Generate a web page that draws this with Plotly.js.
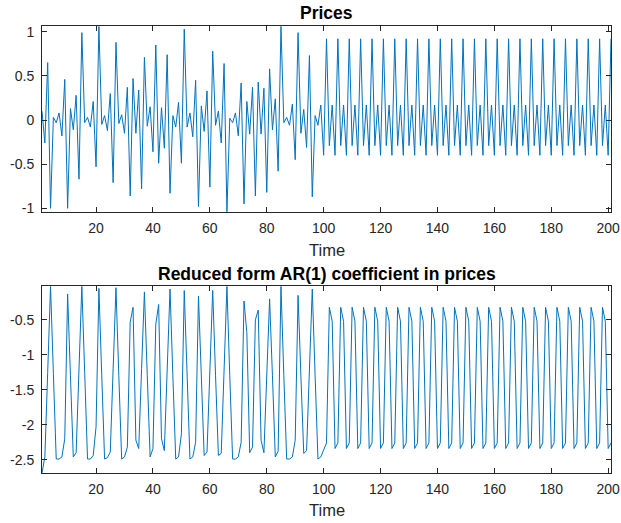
<!DOCTYPE html>
<html>
<head>
<meta charset="utf-8">
<script src="https://cdn.plot.ly/plotly-3.0.1.min.js"></script>
<style>html,body{margin:0;padding:0;background:#fff;}#chart{width:621px;height:523px;}</style>
</head>
<body>
<div id="chart"></div>
<script>
// ---- data ----
var prices = [
  0.10, -0.26, 0.65, -1.00, 0.03, -0.03, 0.08, -0.18, 0.46, -1.00,
  0.13, -0.11, 0.28, -0.67, 0.99, -0.03, 0.03, -0.08, 0.21, -0.53,
  1.06, -0.05, 0.05, -0.12, 0.30, -0.71, 0.88, -0.04, 0.06, -0.15,
  0.37, -0.86, 0.47, -0.15, 0.34, -0.78, 0.71, -0.07, 0.15, -0.36,
  0.85, -0.49, 0.14, -0.32, 0.74, -0.83, 0.05, -0.08, 0.20, -0.49,
  1.03, -0.08, 0.08, -0.19, 0.45, -0.98, 0.16, -0.13, 0.33, -0.76,
  0.78, -0.06, 0.10, -0.26, 0.64, -1.04, 0.02, -0.03, 0.08, -0.18,
  0.42, -0.95, 0.21, -0.16, 0.37, -0.86, 0.43, -0.16, 0.36, -0.82,
  0.58, -0.11, 0.24, -0.58, 1.06, -0.03, 0.03, -0.06, 0.18, -0.45,
  0.99, -0.15, 0.12, -0.31, 0.73, -0.87, 0.05, -0.06, 0.17, -0.40,
  0.92, -0.29, 0.17, -0.40, 0.92, -0.29, 0.17, -0.40, 0.92, -0.29,
  0.17, -0.40, 0.92, -0.29, 0.17, -0.40, 0.92, -0.29, 0.17, -0.40,
  0.92, -0.29, 0.17, -0.40, 0.92, -0.29, 0.17, -0.40, 0.92, -0.29,
  0.17, -0.40, 0.92, -0.29, 0.17, -0.40, 0.92, -0.29, 0.17, -0.40,
  0.92, -0.29, 0.17, -0.40, 0.92, -0.29, 0.17, -0.40, 0.92, -0.29,
  0.17, -0.40, 0.92, -0.29, 0.17, -0.40, 0.92, -0.29, 0.17, -0.40,
  0.92, -0.29, 0.17, -0.40, 0.92, -0.29, 0.17, -0.40, 0.92, -0.29,
  0.17, -0.40, 0.92, -0.29, 0.17, -0.40, 0.92, -0.29, 0.17, -0.40,
  0.92, -0.29, 0.17, -0.40, 0.92, -0.29, 0.17, -0.40, 0.92, -0.29,
  0.17, -0.40, 0.92, -0.29, 0.17, -0.40, 0.92, -0.29, 0.17, -0.40,
  0.92
];

var arCoef = [
  -2.69, -2.46, -1.25, -0.02, -1.27, -2.49, -2.49, -2.46, -2.20, -0.13,
  -1.30, -2.46, -2.40, -1.22, -0.02, -1.25, -2.49, -2.49, -2.44, -2.03,
  -0.05, -1.30, -2.49, -2.47, -2.39, -1.20, -0.04, -1.30, -2.49, -2.46,
  -2.32, -0.53, -0.32, -2.22, -2.34, -1.20, -0.10, -1.30, -2.46, -2.34,
  -0.56, -0.28, -2.20, -2.37, -1.20, -0.06, -1.30, -2.49, -2.46, -2.13,
  -0.08, -1.30, -2.49, -2.46, -2.25, -0.16, -1.30, -2.44, -2.39, -1.20,
  -0.08, -1.30, -2.44, -2.41, -1.20, -0.02, -1.30, -2.49, -2.49, -2.46,
  -2.25, -0.23, -0.68, -2.40, -2.32, -0.50, -0.36, -2.22, -2.40, -1.30,
  -0.20, -1.30, -2.46, -2.38, -0.02, -1.30, -2.49, -2.49, -2.46, -2.22,
  -0.15, -1.30, -2.41, -2.37, -1.25, -0.06, -1.30, -2.49, -2.46, -2.37,
  -2.26, -0.32, -0.52, -2.34, -2.26, -0.32, -0.52, -2.34, -2.26, -0.32,
  -0.52, -2.34, -2.26, -0.32, -0.52, -2.34, -2.26, -0.32, -0.52, -2.34,
  -2.26, -0.32, -0.52, -2.34, -2.26, -0.32, -0.52, -2.34, -2.26, -0.32,
  -0.52, -2.34, -2.26, -0.32, -0.52, -2.34, -2.26, -0.32, -0.52, -2.34,
  -2.26, -0.32, -0.52, -2.34, -2.26, -0.32, -0.52, -2.34, -2.26, -0.32,
  -0.52, -2.34, -2.26, -0.32, -0.52, -2.34, -2.26, -0.32, -0.52, -2.34,
  -2.26, -0.32, -0.52, -2.34, -2.26, -0.32, -0.52, -2.34, -2.26, -0.32,
  -0.52, -2.34, -2.26, -0.32, -0.52, -2.34, -2.26, -0.32, -0.52, -2.34,
  -2.26, -0.32, -0.52, -2.34, -2.26, -0.32, -0.52, -2.34, -2.26, -0.32,
  -0.52, -2.34, -2.26, -0.32, -0.52, -2.34, -2.26, -0.32, -0.52, -2.34,
  -2.26
];

var xTickVals = [20, 40, 60, 80, 100, 120, 140, 160, 180, 200];
var xTickText = ["20", "40", "60", "80", "100", "120", "140", "160", "180", "200"];
var y1TickVals = [-1, -0.5, 0, 0.5, 1];
var y1TickText = ["-1", "-0.5", "0", "0.5", "1"];
var y2TickVals = [-2.5, -2, -1.5, -1, -0.5];
var y2TickText = ["-2.5", "-2", "-1.5", "-1", "-0.5"];
var titleTop = "Prices";
var titleBottom = "Reduced form AR(1) coefficient in prices";
var xLabel = "Time";

// time index 1..N
var time = [];
for (var i = 0; i < prices.length; i++) { time.push(i + 1); }

var FONT = "Liberation Sans, Arial, Helvetica, sans-serif";
var AX = "#262626";
var BLUE = "#0072BD";

var traces = [
  {x: time, y: prices, type: "scatter", mode: "lines", xaxis: "x", yaxis: "y",
   line: {color: BLUE, width: 1}, hoverinfo: "skip"},
  {x: time, y: arCoef, type: "scatter", mode: "lines", xaxis: "x2", yaxis: "y2",
   line: {color: BLUE, width: 1}, hoverinfo: "skip"}
];

function xAxis(anchor) {
  return {
    anchor: anchor, domain: [0, 1], range: [1, time.length],
    tickmode: "array", tickvals: xTickVals, ticktext: xTickText,
    ticks: "inside", ticklen: 5, tickwidth: 1, tickcolor: AX,
    showline: true, linecolor: AX, linewidth: 1, mirror: "ticks",
    showgrid: false, zeroline: false, ticklabelstandoff: 3,
    tickfont: {family: FONT, size: 14, color: AX}
  };
}
function yAxis(anchor, dom, rng, tv, tt) {
  return {
    anchor: anchor, domain: dom, range: rng,
    tickmode: "array", tickvals: tv, ticktext: tt,
    ticks: "inside", ticklen: 5, tickwidth: 1, tickcolor: AX,
    showline: true, linecolor: AX, linewidth: 1, mirror: "ticks",
    showgrid: false, zeroline: false, ticklabelstandoff: 4,
    tickfont: {family: FONT, size: 14, color: AX}
  };
}

var layout = {
  width: 621, height: 523,
  margin: {l: 42, r: 10, t: 26, b: 50, pad: 0},
  paper_bgcolor: "#ffffff", plot_bgcolor: "#ffffff",
  showlegend: false,
  xaxis: xAxis("y"),
  yaxis: yAxis("x", [0.5843, 1], [-1.04, 1.065], y1TickVals, y1TickText),
  xaxis2: xAxis("y2"),
  yaxis2: yAxis("x2", [0, 0.4177], [-2.69, -0.02], y2TickVals, y2TickText),
  annotations: [
    {text: "<b>" + titleTop + "</b>", xref: "paper", yref: "paper", x: 0.5, y: 1.0284,
     xanchor: "center", yanchor: "middle", showarrow: false,
     font: {family: FONT, size: 17.5, color: "#000"}},
    {text: "<b>" + titleBottom + "</b>", xref: "paper", yref: "paper", x: 0.5, y: 0.4452,
     xanchor: "center", yanchor: "middle", showarrow: false,
     font: {family: FONT, size: 17.5, color: "#000"}},
    {text: xLabel, xref: "paper", yref: "paper", x: 0.5, y: 0.4989,
     xanchor: "center", yanchor: "middle", showarrow: false,
     font: {family: FONT, size: 16.5, color: AX}},
    {text: xLabel, xref: "paper", yref: "paper", x: 0.5, y: -0.0828,
     xanchor: "center", yanchor: "middle", showarrow: false,
     font: {family: FONT, size: 16.5, color: AX}}
  ]
};

Plotly.newPlot("chart", traces, layout, {staticPlot: true, displayModeBar: false});
</script>
</body>
</html>
